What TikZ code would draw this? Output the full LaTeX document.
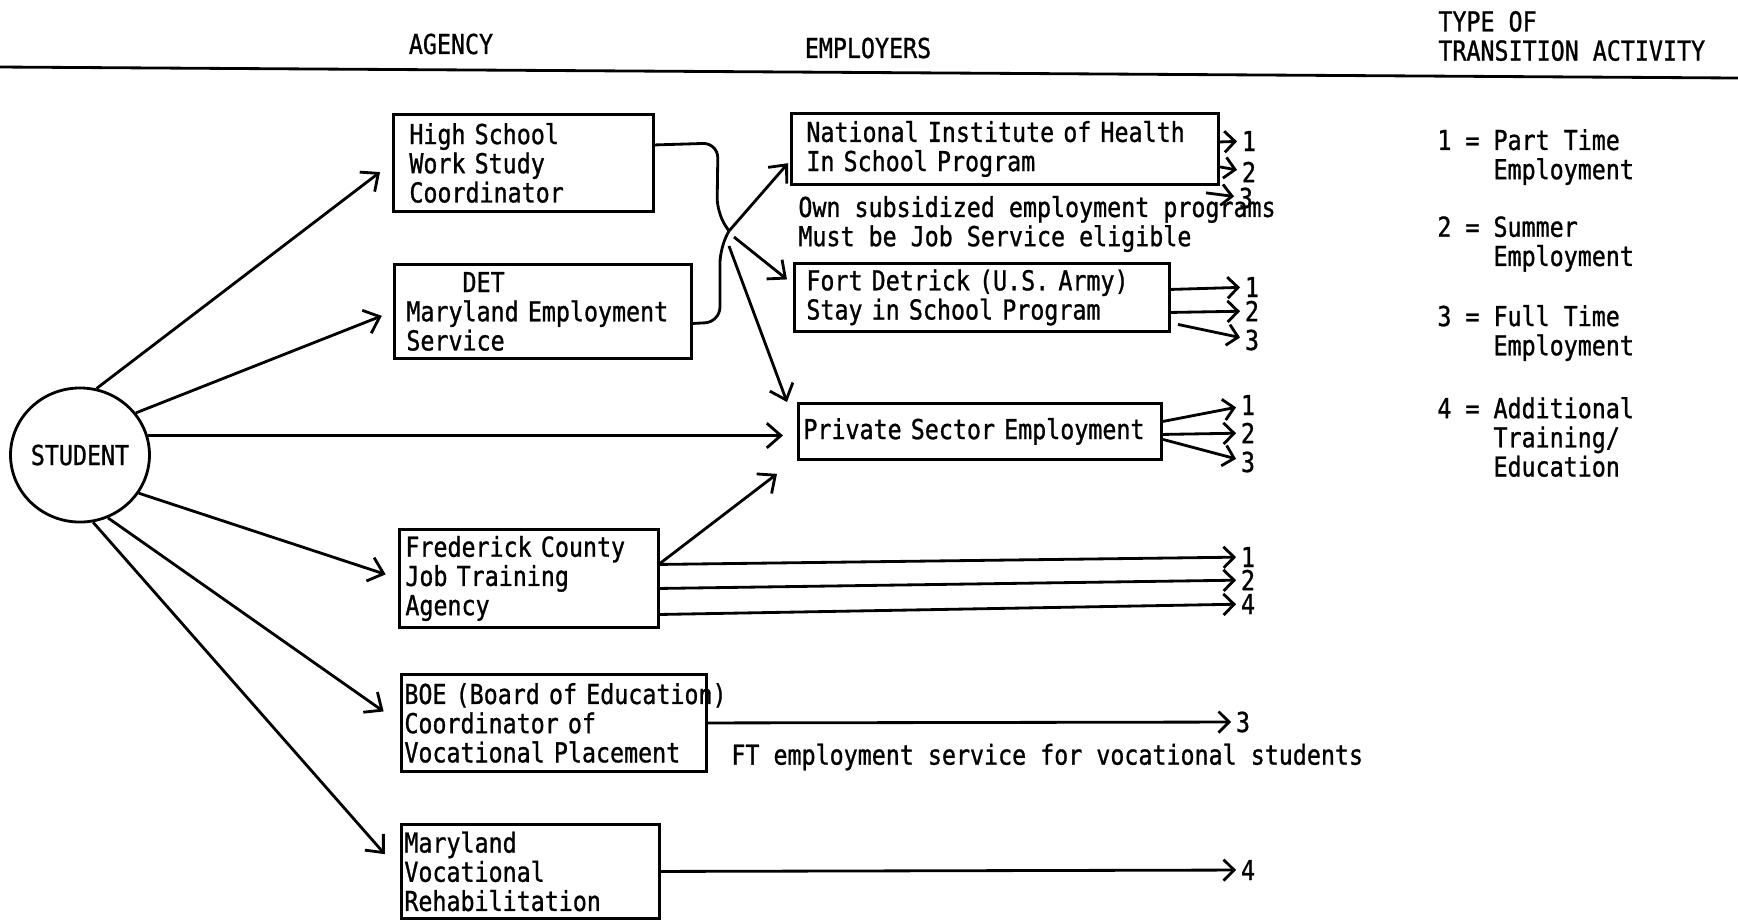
\documentclass[tikz,border=0pt]{standalone}
\usepackage{fontspec}
\newfontfamily\typewr[FakeStretch=0.85,FakeBold=1]{DejaVu Sans Mono}
\usetikzlibrary{arrows.meta,shapes.geometric}

\begin{document}
\begin{tikzpicture}[x=0.01cm, y=-0.01cm, line width=0.8pt,
	every node/.style={font=\typewr\fontsize{7.8}{8.3}\selectfont},
	agency/.style={draw, anchor=north west, align=left, inner ysep=0pt},
	arr/.style={-{Straight Barb[length=4pt,width=7pt]}},
	toact/.style={-{Straight Barb[length=3pt,width=6pt]}},
	numlabel/.style={inner sep=1pt}]

	\useasboundingbox (0,0) rectangle (1738,920);

	% Draw the headings
	\draw (0,67) -- (1738,78);
	\node (agencyhd) at (451,44) {AGENCY};
	\node (emphd) at (868,48) {EMPLOYERS};
	\node[anchor=west, align=left, inner sep=0pt] (typehd) at (1437,36) {TYPE OF\\TRANSITION ACTIVITY};

	% Draw the student
	\node[draw, ellipse, minimum width=1.28cm, minimum height=1.34cm, inner sep=0pt] (student) at (80,455) {STUDENT};

	% Draw the agencies
	\node[agency, text width=2.28cm, minimum height=0.97cm, inner xsep=0.16cm] (hs) at (392,113) {High School\\Work Study\\Coordinator};
	\node[agency, text width=2.73cm, minimum height=0.94cm, inner xsep=0.12cm] (det) at (393,263) {\phantom{Mary}DET\\Maryland Employment\\Service};
	\node[agency, text width=2.47cm, minimum height=0.98cm, inner xsep=0.06cm] (fcjt) at (398,528) {Frederick County\\Job Training\\Agency};
	\node[agency, text width=2.99cm, minimum height=0.97cm, inner xsep=0.03cm] (boe) at (400,673) {\makebox[0pt][l]{BOE (Board of Education)}\\Coordinator of\\Vocational Placement};
	\node[agency, text width=2.52cm, minimum height=0.94cm, inner xsep=0.03cm] (mvr) at (400,823) {Maryland\\Vocational\\Rehabilitation};

	% Draw the employers
	\node[agency, text width=3.97cm, minimum height=0.71cm, inner xsep=0.15cm] (nih) at (790,112) {National Institute of Health\\In School Program};
	\node[agency, text width=3.51cm, minimum height=0.68cm, inner xsep=0.12cm] (fort) at (793,262) {Fort Detrick (U.S. Army)\\Stay in School Program};
	\node[agency, text width=3.53cm, minimum height=0.56cm, inner xsep=0.05cm] (private) at (797,402) {Private Sector Employment};

	% Notes beside the boxes
	\node[anchor=west, align=left, inner sep=0pt] (nihnote) at (797,224) {Own subsidized employment programs\\Must be Job Service eligible};
	\node[anchor=west, inner sep=0pt] (boenote) at (730,757) {FT employment service for vocational students};

	% Draw the key
	\node[anchor=west, align=left, inner sep=0pt] (key1) at (1436,157) {1 = Part Time\\\phantom{1 = }Employment};
	\node[anchor=west, align=left, inner sep=0pt] (key2) at (1436,244) {2 = Summer\\\phantom{2 = }Employment};
	\node[anchor=west, align=left, inner sep=0pt] (key3) at (1436,333) {3 = Full Time\\\phantom{3 = }Employment};
	\node[anchor=west, align=left, inner sep=0pt] (key4) at (1436,437) {4 = Additional\\\phantom{4 = }Training/\\\phantom{4 = }Education};

	% Transition activity numbers
	\node[numlabel] (nih1) at (1249,141) {1};
	\node[numlabel] (nih2) at (1249,172) {2};
	\node[numlabel] (nih3) at (1246,198) {3};
	\node[numlabel] (fort1) at (1252,287) {1};
	\node[numlabel] (fort2) at (1252,311) {2};
	\node[numlabel] (fort3) at (1252,340) {3};
	\node[numlabel] (pv1) at (1248,405) {1};
	\node[numlabel] (pv2) at (1248,433) {2};
	\node[numlabel] (pv3) at (1248,462) {3};
	\node[numlabel] (fc1) at (1248,557) {1};
	\node[numlabel] (fc2) at (1248,580) {2};
	\node[numlabel] (fc4) at (1248,604) {4};
	\node[numlabel] (boe3) at (1243,722) {3};
	\node[numlabel] (mvr4) at (1248,870) {4};

	% Draw the student to the agencies
	\draw[arr, shorten >=0.15cm] (student.76) -- (hs.west);
	\draw[arr, shorten >=0.12cm] (student.37) -- (det.west);
	\draw[arr, shorten >=0.14cm] (student.16) -- (student.16 -| private.west);
	\draw[arr, shorten >=0.13cm] (student.327) -- (fcjt.west);
	\draw[arr, shorten >=0.2cm] (student.294) -- (boe.west);
	\draw[arr, shorten >=0.23cm] (student.281) -- (mvr.west);

	% Draw the agencies to the employers
	\coordinate (hub) at (729,231);
	\draw[rounded corners=0.15cm] ([yshift=0.18cm]hs.east) -- (718,143) -- (717,213) -- (hub);
	\draw[rounded corners=0.15cm] ([yshift=-0.12cm]det.east) -- (720,322) -- (720,248) -- (hub);
	\draw[arr, shorten >=0.03cm] (hub) -- ([yshift=-0.12cm]nih.west);
	\draw[arr] ([shift={(0.05cm,-0.06cm)}]hub) -- ([xshift=-0.06cm,yshift=0.18cm]fort.west);
	\draw[arr] ([yshift=-0.15cm]hub) -- ([xshift=-0.1cm]private.north west);
	\draw[arr] ([yshift=0.15cm]fcjt.east) -- ([shift={(-0.2cm,-0.13cm)}]private.south west);

	% Draw the lines to the transition activities
	\draw[toact] ([yshift=0.07cm]nih.east) -- (nih1);
	\draw[toact] ([yshift=-0.18cm]nih.east) -- (nih2);
	\draw[toact] ([shift={(-0.14cm,-0.07cm)}]nih.south east) -- (nih3);
	\draw[toact] ([yshift=0.08cm]fort.east) -- (fort1);
	\draw[toact] ([yshift=-0.15cm]fort.east) -- (fort2);
	\draw[toact] ([shift={(0.07cm,-0.27cm)}]fort.east) -- (fort3);
	\draw[toact] ([yshift=0.1cm]private.east) -- (pv1);
	\draw[toact] ([yshift=-0.03cm]private.east) -- (pv2);
	\draw[toact] ([yshift=-0.08cm]private.east) -- (pv3);
	\draw[toact] ([yshift=0.14cm]fcjt.east) -- (fc1);
	\draw[toact] ([yshift=-0.1cm]fcjt.east) -- (fc2);
	\draw[toact] ([yshift=-0.36cm]fcjt.east) -- (fc4);
	\draw[toact] (boe.east) -- (boe3);
	\draw[toact] (mvr.east) -- (mvr4);

\end{tikzpicture}
\end{document}
